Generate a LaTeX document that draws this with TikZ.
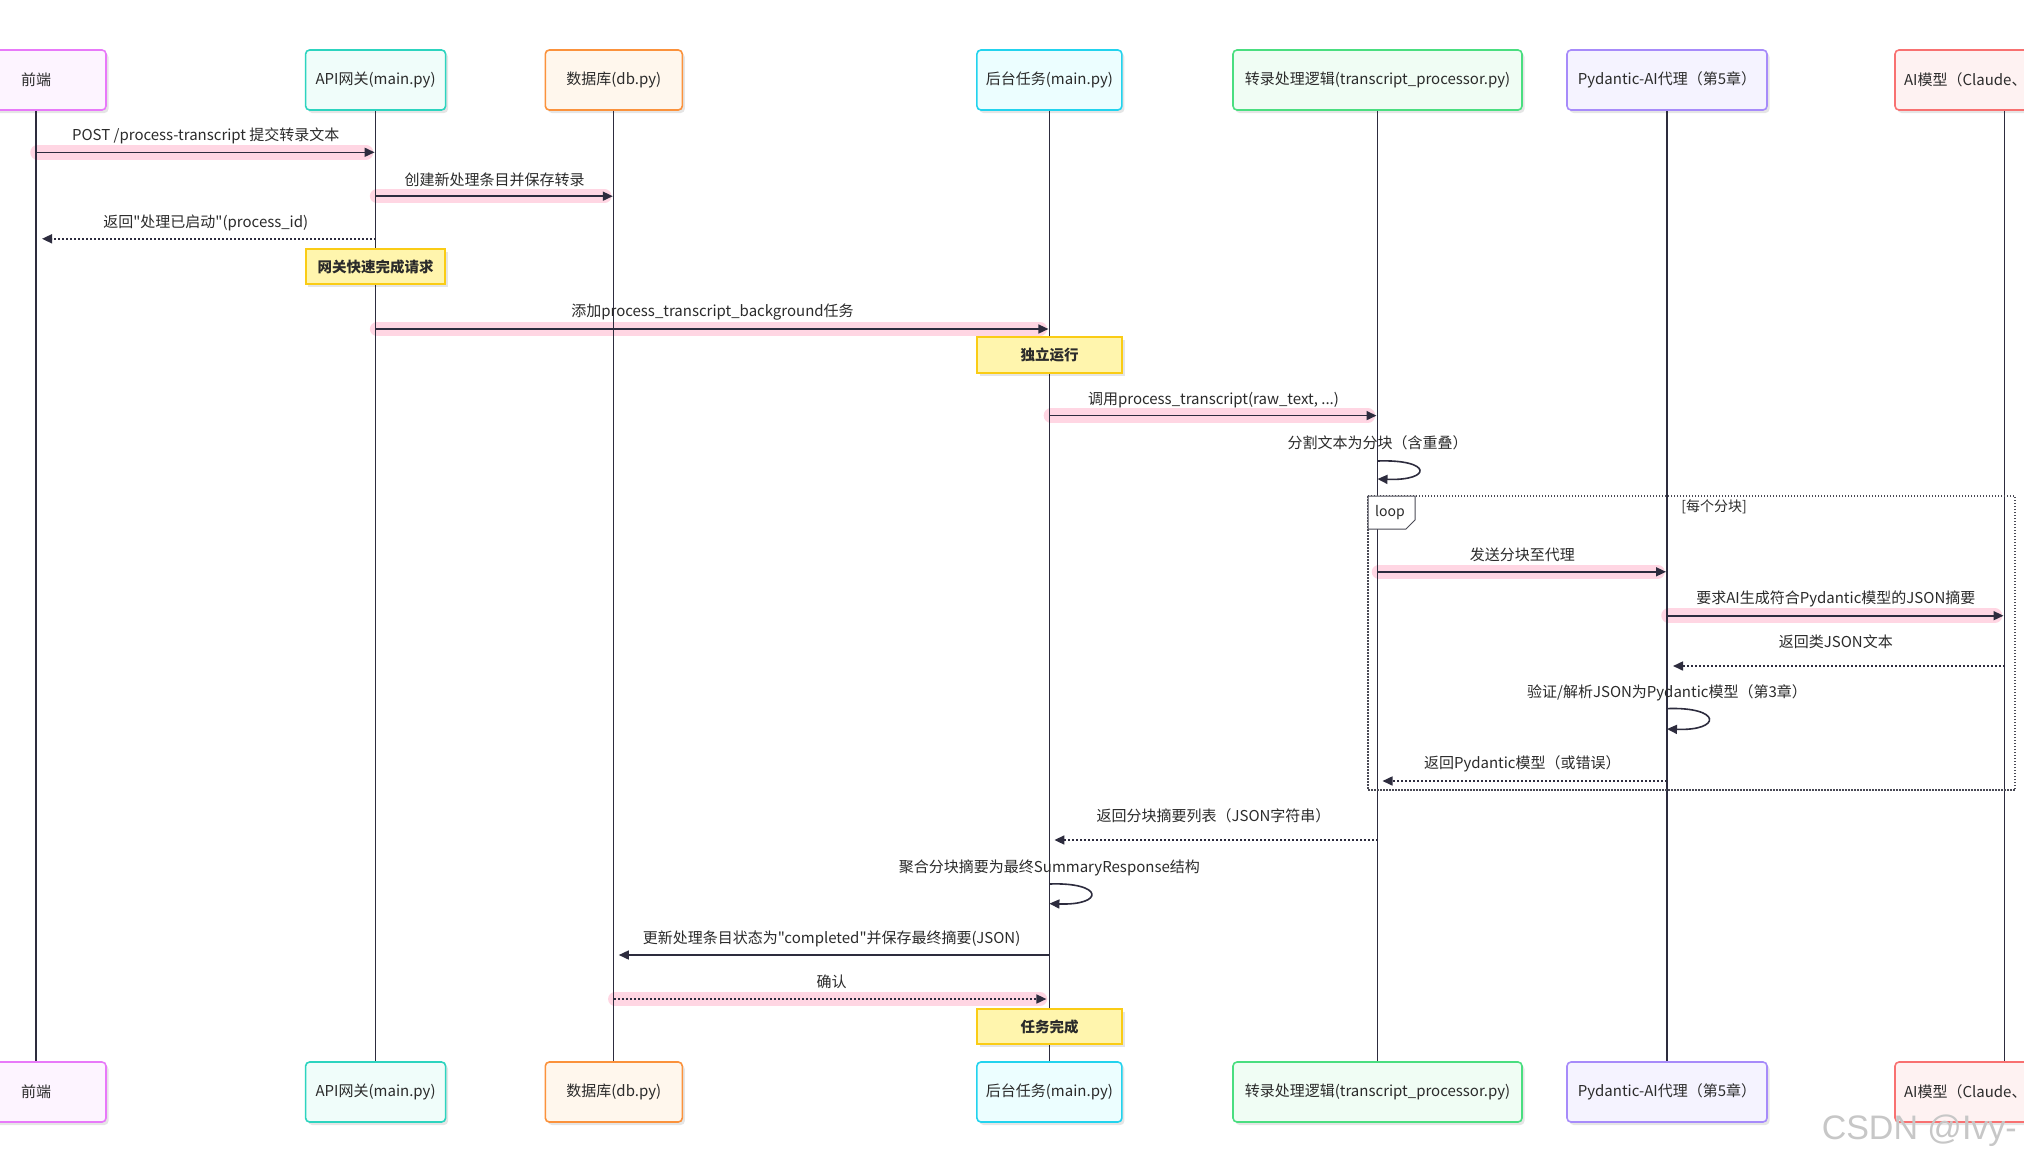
\documentclass[tikz,border=0pt]{standalone}
\usepackage{fontspec}
\setmainfont{Noto Sans CJK SC}[Ligatures=TeXOff]
\newfontfamily\wmfont{Liberation Sans}
\usetikzlibrary{arrows.meta,shadows}

\definecolor{ink}{HTML}{2D2C3E}
\definecolor{txt}{HTML}{2B2B2B}
\definecolor{hl}{HTML}{FFD6E3}
\definecolor{notefill}{HTML}{FFF5AD}
\definecolor{notedraw}{HTML}{FACC15}
\definecolor{feD}{HTML}{E879F9}\definecolor{feF}{HTML}{FDF4FF}
\definecolor{apiD}{HTML}{2DD4BF}\definecolor{apiF}{HTML}{F0FDFA}
\definecolor{dbD}{HTML}{FB923C}\definecolor{dbF}{HTML}{FFF7ED}
\definecolor{bgD}{HTML}{22D3EE}\definecolor{bgF}{HTML}{ECFEFF}
\definecolor{tpD}{HTML}{4ADE80}\definecolor{tpF}{HTML}{F0FDF4}
\definecolor{paD}{HTML}{A78BFA}\definecolor{paF}{HTML}{F5F3FF}
\definecolor{aiD}{HTML}{F87171}\definecolor{aiF}{HTML}{FEF2F2}
\definecolor{loopD}{HTML}{4A4A55}

\tikzset{
  actor/.style 2 args={draw=#1, fill=#2, line width=1.6pt, rounded corners=4pt,
    minimum height=60pt, inner sep=0pt, text=txt,
    font=\fontsize{15pt}{18pt}\selectfont,
    drop shadow={shadow xshift=2.5pt, shadow yshift=-3pt, fill=black, opacity=0.10}},
  life/.style={draw=ink, line width=1.3pt},
  band/.style={draw=hl, line width=14.5pt, line cap=round},
  msg/.style={draw=ink, line width=1.6pt, -{Triangle[length=10pt,width=9pt]}},
  ret/.style={msg, dash pattern=on 2pt off 2pt},
  lbl/.style={text=txt, font=\fontsize{15pt}{18pt}\selectfont, inner sep=0pt},
  notebox/.style={draw=notedraw, fill=notefill, line width=1.8pt, inner sep=0pt,
    minimum height=35pt, text=txt,
    font=\fontsize{14.5pt}{17pt}\selectfont\bfseries,
    drop shadow={shadow xshift=2.5pt, shadow yshift=-3pt, fill=black, opacity=0.10}},
  loopframe/.style={draw=loopD, line width=1.3pt, dash pattern=on 1.5pt off 1.5pt},
  looptab/.style={draw=loopD, line width=1pt, fill=white},
}

\begin{document}
\begin{tikzpicture}[x=1pt, y=-1pt]
\useasboundingbox (0,0) rectangle (2024,1165);
\fill[white] (0,0) rectangle (2024,1165);
\clip (0,0) rectangle (2024,1165);

% ---- message rows ----
\coordinate (m1) at (0,152.3);
\coordinate (m2) at (0,196.2);
\coordinate (m3) at (0,238.8);
\coordinate (m5) at (0,329);
\coordinate (m7) at (0,415.6);
\coordinate (s8a) at (0,461);
\coordinate (s8b) at (0,479);
\coordinate (m10) at (0,571.8);
\coordinate (m11) at (0,615.7);
\coordinate (m12) at (0,666);
\coordinate (s13a) at (0,708.6);
\coordinate (s13b) at (0,729);
\coordinate (m14) at (0,781);
\coordinate (m15) at (0,840);
\coordinate (s16a) at (0,884);
\coordinate (s16b) at (0,903.6);
\coordinate (m17) at (0,955);
\coordinate (m18) at (0,999);

% ---- actors (top) ----
\node[actor={feD}{feF}, minimum width=140pt] (fe) at (36,80) {前端};
\node[actor={apiD}{apiF}, minimum width=140pt] (api) at (375.6,80) {API网关(main.py)};
\node[actor={dbD}{dbF}, minimum width=137pt] (db) at (613.8,80) {数据库(db.py)};
\node[actor={bgD}{bgF}, minimum width=145pt] (bg) at (1049.4,80) {后台任务(main.py)};
\node[actor={tpD}{tpF}, minimum width=289pt] (tp) at (1377.5,80) {转录处理逻辑(transcript\_processor.py)};
\node[actor={paD}{paF}, minimum width=200pt] (pa) at (1667,80) {Pydantic-AI代理（第5章）};
\node[actor={aiD}{aiF}, minimum width=219pt, text width=201pt, align=left] (ai) at (2004.5,80) {AI模型（Claude、};

% ---- actors (bottom) ----
\node[actor={feD}{feF}, minimum width=140pt] (fe2) at (36,1092) {前端};
\node[actor={apiD}{apiF}, minimum width=140pt] (api2) at (375.6,1092) {API网关(main.py)};
\node[actor={dbD}{dbF}, minimum width=137pt] (db2) at (613.8,1092) {数据库(db.py)};
\node[actor={bgD}{bgF}, minimum width=145pt] (bg2) at (1049.4,1092) {后台任务(main.py)};
\node[actor={tpD}{tpF}, minimum width=289pt] (tp2) at (1377.5,1092) {转录处理逻辑(transcript\_processor.py)};
\node[actor={paD}{paF}, minimum width=200pt] (pa2) at (1667,1092) {Pydantic-AI代理（第5章）};
\node[actor={aiD}{aiF}, minimum width=219pt, text width=201pt, align=left] (ai2) at (2004.5,1092) {AI模型（Claude、};

% ---- highlight bands ----
\draw[band, shorten <=1.5pt, shorten >=9.5pt] (fe|-m1) -- (api|-m1);
\draw[band, shorten <=1.5pt, shorten >=9.5pt] (api|-m2) -- (db|-m2);
\draw[band, shorten <=1.5pt, shorten >=9.5pt] (api|-m5) -- (bg|-m5);
\draw[band, shorten <=1.5pt, shorten >=9.5pt] (bg|-m7) -- (tp|-m7);
\draw[band, shorten <=1.5pt, shorten >=9.5pt] (tp|-m10) -- (pa|-m10);
\draw[band, shorten <=1.5pt, shorten >=9.5pt] (pa|-m11) -- (ai|-m11);
\draw[band, shorten <=1.5pt, shorten >=9.5pt] (db|-m18) -- (bg|-m18);

% ---- lifelines ----
\draw[life] (fe.south) -- (fe2.north);
\draw[life] (api.south) -- (api2.north);
\draw[life] (db.south) -- (db2.north);
\draw[life] (bg.south) -- (bg2.north);
\draw[life] (tp.south) -- (tp2.north);
\draw[life] (pa.south) -- (pa2.north);
\draw[life] (ai.south) -- (ai2.north);

% ---- loop frame ----
\draw[loopframe] (1368,496) rectangle (2015,790);
\draw[looptab] (1368,496) -- (1415,496) -- (1415,520) -- (1406,529) -- (1368,529) -- cycle;
\node[lbl, font=\fontsize{14pt}{17pt}\selectfont] (looplbl) at (1390,513) {loop};
\node[lbl, font=\fontsize{14pt}{17pt}\selectfont] (loopcond) at (1714,507) {[每个分块]};

% ---- messages ----
\draw[msg, shorten >=1pt] (fe|-m1) -- (api|-m1);
\node[lbl] (l1) at (205.8,135.5) {POST /process-transcript 提交转录文本};

\draw[msg, shorten >=1pt] (api|-m2) -- (db|-m2);
\node[lbl] (l2) at (494.7,179.4) {创建新处理条目并保存转录};

\draw[ret, shorten >=6pt] (api|-m3) -- (fe|-m3);
\node[lbl] (l3) at (205.8,223.3) {返回"处理已启动"(process\_id)};

\draw[msg, shorten >=1pt] (api|-m5) -- (bg|-m5);
\node[lbl] (l5) at (712.5,312.4) {添加process\_transcript\_background任务};

\draw[msg, shorten >=1pt] (bg|-m7) -- (tp|-m7);
\node[lbl] (l7) at (1213.5,400) {调用process\_transcript(raw\_text, ...)};

\draw[msg] (tp|-s8a) .. controls +(55,-2) and +(55,2) .. (tp|-s8b);
\node[lbl] (l8) at (1377.5,442.7) {分割文本为分块（含重叠）};

\draw[msg, shorten >=1pt] (tp|-m10) -- (pa|-m10);
\node[lbl] (l10) at (1522.3,555) {发送分块至代理};

\draw[msg, shorten >=1pt] (pa|-m11) -- (ai|-m11);
\node[lbl] (l11) at (1835.8,599) {要求AI生成符合Pydantic模型的JSON摘要};

\draw[ret, shorten >=6pt] (ai|-m12) -- (pa|-m12);
\node[lbl] (l12) at (1835.8,641.5) {返回类JSON文本};

\draw[msg] (pa|-s13a) .. controls +(55,-2) and +(55,2) .. (pa|-s13b);
\node[lbl] (l13) at (1667,693) {验证/解析JSON为Pydantic模型（第3章）};

\draw[ret, shorten >=5pt] (pa|-m14) -- (tp|-m14);
\node[lbl] (l14) at (1522.3,764) {返回Pydantic模型（或错误）};

\draw[ret, shorten >=5pt] (tp|-m15) -- (bg|-m15);
\node[lbl] (l15) at (1213.5,815.8) {返回分块摘要列表（JSON字符串）};

\draw[msg] (bg|-s16a) .. controls +(55,-2) and +(55,2) .. (bg|-s16b);
\node[lbl] (l16) at (1049.4,867.4) {聚合分块摘要为最终SummaryResponse结构};

\draw[msg, shorten >=5pt] (bg|-m17) -- (db|-m17);
\node[lbl] (l17) at (831.6,938.4) {更新处理条目状态为"completed"并保存最终摘要(JSON)};

\draw[ret, shorten >=3pt] (db|-m18) -- (bg|-m18);
\node[lbl] (l18) at (831.6,982) {确认};

% ---- notes ----
\node[notebox, minimum width=139.5pt] (n1) at (375.6,266.5) {网关快速完成请求};
\node[notebox, minimum width=145pt, minimum height=36pt] (n2) at (1049.5,355) {独立运行};
\node[notebox, minimum width=145pt] (n3) at (1049.5,1026.5) {任务完成};

% ---- watermark ----
\node[anchor=east, inner sep=0pt, text=black!22, font=\wmfont\fontsize{34pt}{40pt}\selectfont] (wm) at (2017,1131) {CSDN @Ivy-};
\end{tikzpicture}
\end{document}
